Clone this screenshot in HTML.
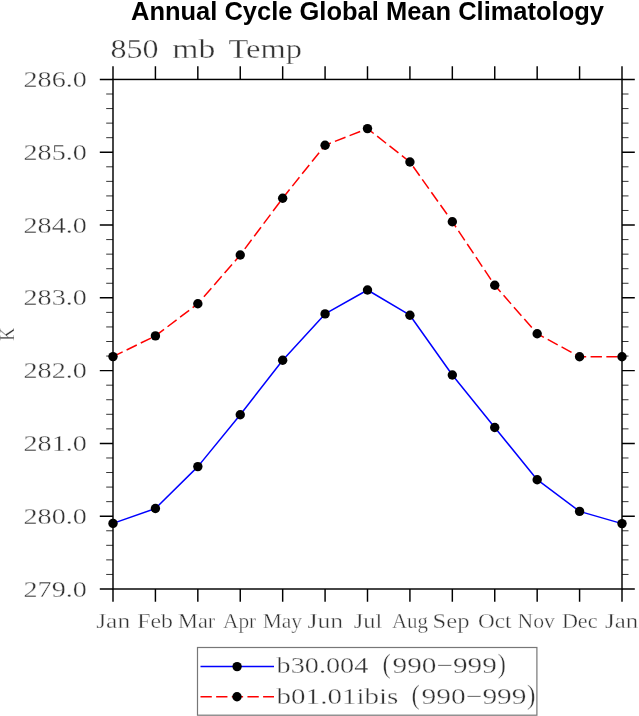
<!DOCTYPE html><html><head><meta charset="utf-8"><title>Annual Cycle Global Mean Climatology</title>
<style>html,body{margin:0;padding:0;background:#fff;overflow:hidden}svg{display:block;will-change:transform}.t{font-family:"Liberation Serif",serif;fill:#333;stroke:#fff;stroke-width:0.35px;}</style></head><body>
<svg width="639" height="716" viewBox="0 0 639 716">
<rect width="639" height="716" fill="#fff"/>
<text id="title" x="131" y="19.6" font-family="Liberation Sans, sans-serif" font-weight="bold" font-size="25.5" fill="#000" textLength="473" lengthAdjust="spacingAndGlyphs">Annual Cycle Global Mean Climatology</text>
<text id="K" class="t" transform="translate(13.9,334.2) rotate(-90)" text-anchor="middle" font-size="21" textLength="13" lengthAdjust="spacingAndGlyphs">K</text>
<rect x="113.0" y="79.45" width="509.0" height="509.55" fill="none" stroke="#000" stroke-width="1.45"/>
<path d="M113.00 589.00V601.80M113.00 79.45V66.25M155.42 589.00V601.80M155.42 79.45V66.25M197.83 589.00V601.80M197.83 79.45V66.25M240.25 589.00V601.80M240.25 79.45V66.25M282.67 589.00V601.80M282.67 79.45V66.25M325.08 589.00V601.80M325.08 79.45V66.25M367.50 589.00V601.80M367.50 79.45V66.25M409.92 589.00V601.80M409.92 79.45V66.25M452.33 589.00V601.80M452.33 79.45V66.25M494.75 589.00V601.80M494.75 79.45V66.25M537.17 589.00V601.80M537.17 79.45V66.25M579.58 589.00V601.80M579.58 79.45V66.25M622.00 589.00V601.80M622.00 79.45V66.25M113.00 79.45H99.80M622.00 79.45H634.80M113.00 152.24H99.80M622.00 152.24H634.80M113.00 225.04H99.80M622.00 225.04H634.80M113.00 297.83H99.80M622.00 297.83H634.80M113.00 370.62H99.80M622.00 370.62H634.80M113.00 443.41H99.80M622.00 443.41H634.80M113.00 516.21H99.80M622.00 516.21H634.80M113.00 589.00H99.80M622.00 589.00H634.80" stroke="#000" stroke-width="1.45" fill="none"/>
<path d="M113.00 94.01H106.20M622.00 94.01H628.50M113.00 108.57H106.20M622.00 108.57H628.50M113.00 123.13H106.20M622.00 123.13H628.50M113.00 137.68H106.20M622.00 137.68H628.50M113.00 166.80H106.20M622.00 166.80H628.50M113.00 181.36H106.20M622.00 181.36H628.50M113.00 195.92H106.20M622.00 195.92H628.50M113.00 210.48H106.20M622.00 210.48H628.50M113.00 239.59H106.20M622.00 239.59H628.50M113.00 254.15H106.20M622.00 254.15H628.50M113.00 268.71H106.20M622.00 268.71H628.50M113.00 283.27H106.20M622.00 283.27H628.50M113.00 312.39H106.20M622.00 312.39H628.50M113.00 326.95H106.20M622.00 326.95H628.50M113.00 341.50H106.20M622.00 341.50H628.50M113.00 356.06H106.20M622.00 356.06H628.50M113.00 385.18H106.20M622.00 385.18H628.50M113.00 399.74H106.20M622.00 399.74H628.50M113.00 414.30H106.20M622.00 414.30H628.50M113.00 428.86H106.20M622.00 428.86H628.50M113.00 457.97H106.20M622.00 457.97H628.50M113.00 472.53H106.20M622.00 472.53H628.50M113.00 487.09H106.20M622.00 487.09H628.50M113.00 501.65H106.20M622.00 501.65H628.50M113.00 530.77H106.20M622.00 530.77H628.50M113.00 545.32H106.20M622.00 545.32H628.50M113.00 559.88H106.20M622.00 559.88H628.50M113.00 574.44H106.20M622.00 574.44H628.50" stroke="#000" stroke-width="0.8" fill="none"/>
<text id="s0" class="t" x="110.50" y="58.30" font-size="27" textLength="48.00" lengthAdjust="spacingAndGlyphs">850</text>
<text id="s1" class="t" x="172.30" y="58.30" font-size="27" textLength="43.00" lengthAdjust="spacingAndGlyphs">mb</text>
<text id="s2" class="t" x="228.50" y="58.30" font-size="27" textLength="73.50" lengthAdjust="spacingAndGlyphs">Temp</text>
<text id="y0" class="t" x="23.50" y="87.05" font-size="23.6" textLength="63.40" lengthAdjust="spacingAndGlyphs">286.0</text>
<text id="y1" class="t" x="23.50" y="159.84" font-size="23.6" textLength="63.40" lengthAdjust="spacingAndGlyphs">285.0</text>
<text id="y2" class="t" x="23.50" y="232.64" font-size="23.6" textLength="63.40" lengthAdjust="spacingAndGlyphs">284.0</text>
<text id="y3" class="t" x="23.50" y="305.43" font-size="23.6" textLength="63.40" lengthAdjust="spacingAndGlyphs">283.0</text>
<text id="y4" class="t" x="23.50" y="378.22" font-size="23.6" textLength="63.40" lengthAdjust="spacingAndGlyphs">282.0</text>
<text id="y5" class="t" x="23.50" y="451.01" font-size="23.6" textLength="63.40" lengthAdjust="spacingAndGlyphs">281.0</text>
<text id="y6" class="t" x="23.50" y="523.81" font-size="23.6" textLength="63.40" lengthAdjust="spacingAndGlyphs">280.0</text>
<text id="y7" class="t" x="23.50" y="596.60" font-size="23.6" textLength="63.40" lengthAdjust="spacingAndGlyphs">279.0</text>
<text id="x0" class="t" x="96.20" y="627.50" font-size="20.4" textLength="34.00" lengthAdjust="spacingAndGlyphs">Jan</text>
<text id="x1" class="t" x="137.20" y="627.50" font-size="20.4" textLength="35.70" lengthAdjust="spacingAndGlyphs">Feb</text>
<text id="x2" class="t" x="178.10" y="627.50" font-size="20.4" textLength="37.20" lengthAdjust="spacingAndGlyphs">Mar</text>
<text id="x3" class="t" x="223.00" y="627.50" font-size="20.4" textLength="33.20" lengthAdjust="spacingAndGlyphs">Apr</text>
<text id="x4" class="t" x="262.70" y="627.50" font-size="20.4" textLength="39.40" lengthAdjust="spacingAndGlyphs">May</text>
<text id="x5" class="t" x="307.40" y="627.50" font-size="20.4" textLength="35.70" lengthAdjust="spacingAndGlyphs">Jun</text>
<text id="x6" class="t" x="353.70" y="627.50" font-size="20.4" textLength="28.50" lengthAdjust="spacingAndGlyphs">Jul</text>
<text id="x7" class="t" x="391.90" y="627.50" font-size="20.4" textLength="36.00" lengthAdjust="spacingAndGlyphs">Aug</text>
<text id="x8" class="t" x="432.60" y="627.50" font-size="20.4" textLength="36.90" lengthAdjust="spacingAndGlyphs">Sep</text>
<text id="x9" class="t" x="478.00" y="627.50" font-size="20.4" textLength="33.50" lengthAdjust="spacingAndGlyphs">Oct</text>
<text id="x10" class="t" x="517.60" y="627.50" font-size="20.4" textLength="37.30" lengthAdjust="spacingAndGlyphs">Nov</text>
<text id="x11" class="t" x="561.90" y="627.50" font-size="20.4" textLength="35.60" lengthAdjust="spacingAndGlyphs">Dec</text>
<text id="x12" class="t" x="605.10" y="627.50" font-size="20.4" textLength="33.20" lengthAdjust="spacingAndGlyphs">Jan</text>
<text id="l1a" class="t" x="276.60" y="672.80" font-size="23.5" textLength="91.70" lengthAdjust="spacingAndGlyphs">b30.004</text>
<text id="l1m" class="t" x="392.50" y="672.80" font-size="23.5" textLength="104.40" lengthAdjust="spacingAndGlyphs">990−999</text>
<text id="l1p1" class="t" x="382.50" y="673.20" font-size="26.5" textLength="8.30" lengthAdjust="spacingAndGlyphs">(</text>
<text id="l1p2" class="t" x="497.70" y="673.20" font-size="26.5" textLength="8.10" lengthAdjust="spacingAndGlyphs">)</text>
<text id="l2a" class="t" x="276.60" y="703.80" font-size="23.5" textLength="121.80" lengthAdjust="spacingAndGlyphs">b01.01ibis</text>
<text id="l2m" class="t" x="421.60" y="703.80" font-size="23.5" textLength="105.00" lengthAdjust="spacingAndGlyphs">990−999</text>
<text id="l2p1" class="t" x="411.60" y="704.20" font-size="26.5" textLength="8.30" lengthAdjust="spacingAndGlyphs">(</text>
<text id="l2p2" class="t" x="527.10" y="704.20" font-size="26.5" textLength="8.50" lengthAdjust="spacingAndGlyphs">)</text>
<polyline points="113.00,523.40 155.42,508.50 197.83,466.60 240.25,414.70 282.67,360.20 325.08,313.90 367.50,290.00 409.92,315.20 452.33,375.00 494.75,427.50 537.17,479.70 579.58,511.40 622.00,523.60" fill="none" stroke="#0000ff" stroke-width="1.5" stroke-linejoin="round"/>
<polyline points="113.00,356.60 155.42,335.90 197.83,303.80 240.25,255.00 282.67,198.20 325.08,145.20 367.50,128.60 409.92,162.00 452.33,221.70 494.75,285.30 537.17,333.70 579.58,356.70 622.00,356.70" fill="none" stroke="#ff0000" stroke-width="1.5" stroke-dasharray="11.35 4.4" stroke-dashoffset="0.6" stroke-linejoin="round"/>
<g fill="#000"><circle cx="113.00" cy="523.40" r="4.7"/><circle cx="155.42" cy="508.50" r="4.7"/><circle cx="197.83" cy="466.60" r="4.7"/><circle cx="240.25" cy="414.70" r="4.7"/><circle cx="282.67" cy="360.20" r="4.7"/><circle cx="325.08" cy="313.90" r="4.7"/><circle cx="367.50" cy="290.00" r="4.7"/><circle cx="409.92" cy="315.20" r="4.7"/><circle cx="452.33" cy="375.00" r="4.7"/><circle cx="494.75" cy="427.50" r="4.7"/><circle cx="537.17" cy="479.70" r="4.7"/><circle cx="579.58" cy="511.40" r="4.7"/><circle cx="622.00" cy="523.60" r="4.7"/><circle cx="113.00" cy="356.60" r="4.7"/><circle cx="155.42" cy="335.90" r="4.7"/><circle cx="197.83" cy="303.80" r="4.7"/><circle cx="240.25" cy="255.00" r="4.7"/><circle cx="282.67" cy="198.20" r="4.7"/><circle cx="325.08" cy="145.20" r="4.7"/><circle cx="367.50" cy="128.60" r="4.7"/><circle cx="409.92" cy="162.00" r="4.7"/><circle cx="452.33" cy="221.70" r="4.7"/><circle cx="494.75" cy="285.30" r="4.7"/><circle cx="537.17" cy="333.70" r="4.7"/><circle cx="579.58" cy="356.70" r="4.7"/><circle cx="622.00" cy="356.70" r="4.7"/></g>
<rect x="197.5" y="647.5" width="339.4" height="67.7" fill="none" stroke="#777" stroke-width="1.2"/>
<line x1="200.5" y1="666.5" x2="274" y2="666.5" stroke="#0000ff" stroke-width="1.6"/>
<circle cx="237.1" cy="666.6" r="4.7" fill="#000"/>
<line x1="200.5" y1="696.8" x2="274" y2="696.8" stroke="#ff0000" stroke-width="1.6" stroke-dasharray="11.3 4.35"/>
<circle cx="237" cy="696.8" r="4.7" fill="#000"/>
</svg></body></html>
